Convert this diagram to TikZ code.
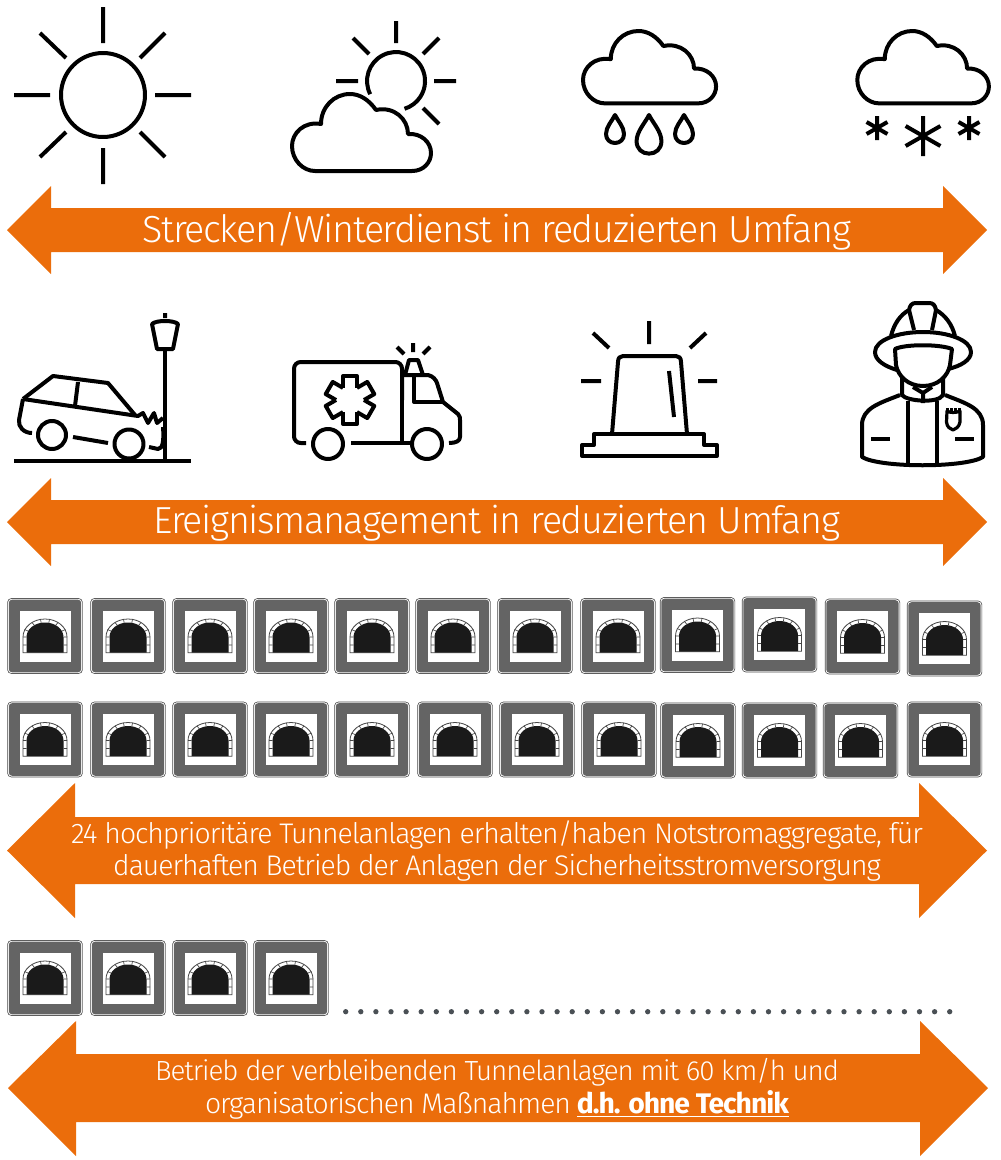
\documentclass[tikz,border=0pt]{standalone}
\usepackage{fontspec}
\setmainfont{Fira Sans Light}[BoldFont={Fira Sans Bold},LetterSpace=-3.6]
\definecolor{orangeA}{HTML}{EB6D0B}
\definecolor{signgrey}{HTML}{646464}
\definecolor{tunneldark}{HTML}{1A1A1A}
\definecolor{dotgrey}{HTML}{4A5055}
\tikzset{
 icon/.style={draw=black,line width=3pt,line cap=butt,line join=round,fill=none},
 iconfine/.style={icon,line width=2.4pt},
 bandarrow/.style={fill=orangeA,draw=none},
 bandtext/.style={text=white,align=center,inner sep=0pt,font=\fontsize{21.25}{24.6}\selectfont},
 headtext/.style={text=white,inner sep=0pt,font=\fontsize{28.25}{32}\selectfont},
 signdot/.style={circle,fill=dotgrey,draw=none,minimum size=4pt,inner sep=0pt},
 pics/tsign/.style={code={
  \fill[rounded corners=3pt,fill=signgrey!70!black] (-37.7,-37.8) rectangle (37.7,37.8);
  \fill[rounded corners=2.6pt,fill=white] (-37,-37.1) rectangle (37,37.1);
  \fill[rounded corners=2.4pt,fill=signgrey] (-36.2,-36.3) rectangle (36.2,36.3);
  \fill[white] (-25.5,-25.5) rectangle (25.5,25.5);
  \draw[fill=white,draw=signgrey!70!black,line width=0.6pt] (-22,16.7) -- (-22,1) arc[start angle=180,end angle=360,x radius=22,y radius=18] -- (22,16.7) -- cycle;
  \fill[tunneldark] (-18.5,16.7) -- (-18.5,1) arc[start angle=180,end angle=360,x radius=18.5,y radius=14.5] -- (18.5,16.7) -- cycle;
  \draw[signgrey!70!black,line width=0.5pt] (-22,1) -- (-18.5,1) (22,1) -- (18.5,1) (-22,9) -- (-18.5,9) (22,9) -- (18.5,9)
     (-20.5,-6.5) -- (-17,-5) (20.5,-6.5) -- (17,-5) (-13,-13.5) -- (-10.5,-10.5) (13,-13.5) -- (10.5,-10.5) (-4.5,-16.5) -- (-3.8,-13.2) (4.5,-16.5) -- (3.8,-13.2);
 }},
}
\newcommand{\cloudshape}{
 (315,171) -- (412,171) .. controls (424,171) and (431,162) .. (431,153)
 .. controls (431,142) and (421,133) .. (408,134)
 .. controls (408,119) and (394,106) .. (376,110)
 .. controls (369,100) and (360,94) .. (350,94)
 .. controls (334,94) and (321,107) .. (321,124)
 .. controls (304,121) and (292,133) .. (292,146)
 .. controls (292,160) and (303,171) .. (315,171) -- cycle}
\newcommand{\droppath}[3]{% tip x, tip y, scale
 \draw[icon,shift={(#1,#2)},x=#3*0.75pt,y=-#3*0.75pt] (0,0) .. controls (-3,6) and (-9,12) .. (-9,19) .. controls (-9,24.5) and (-5,28) .. (0,28) .. controls (5,28) and (9,24.5) .. (9,19) .. controls (9,12) and (3,6) .. (0,0) -- cycle;}
\begin{document}
\begin{tikzpicture}[x=0.75pt,y=-0.75pt]
\useasboundingbox (0,0) rectangle (1000,1160);
% sun
\node[circle,icon,minimum size=63pt,inner sep=0pt] (sunA) at (103,95) {};
\draw[icon] (103,7)--(103,43) (103,148)--(103,184) (14,95)--(50,95) (155,95)--(191,95)
 (40,33)--(66,58) (165,33)--(140,58) (66,132)--(40,157) (140,132)--(165,157);
% sun + cloud
\draw[icon] (370.2,94.2) arc[start angle=153,end angle=433,radius=29];
\draw[icon] (396,21)--(396,43) (336,81)--(358,81) (434,81)--(456,81)
 (353,38)--(369,54) (439,38)--(423,54) (423,108)--(439,124);
\draw[icon] \cloudshape;
% rain
\begin{scope}[shift={(583,31)},x=0.718pt,y=-0.705pt]
\draw[icon,shift={(-292,-94)}] \cloudshape;
\end{scope}
\droppath{615}{115}{1.0}
\droppath{649}{115}{1.38}
\droppath{684}{115}{1.0}
% snow
\begin{scope}[shift={(857.3,31)},x=0.71pt,y=-0.705pt]
\draw[icon,shift={(-292,-94)}] \cloudshape;
\end{scope}
\foreach \cx/\cy/\rr in {877/128/12,923/136/20,969/128/12}{
 \draw[icon] (\cx,\cy-\rr)--(\cx,\cy+\rr)
  (\cx-0.87*\rr,\cy-0.5*\rr)--(\cx+0.87*\rr,\cy+0.5*\rr)
  (\cx-0.87*\rr,\cy+0.5*\rr)--(\cx+0.87*\rr,\cy-0.5*\rr);
}
% arrows
\fill[bandarrow] (7,230)--(51,186)--(51,208)--(943,208)--(943,186)--(987,230)--(943,274)--(943,252)--(51,252)--(51,274)--cycle;
\node[headtext] (t1) at (497,231) {Strecken/Winterdienst in reduzierten Umfang};
\fill[bandarrow] (7,522)--(51,478)--(51,500)--(943,500)--(943,478)--(987,522)--(943,566)--(943,544)--(51,544)--(51,566)--cycle;
\node[headtext] (t2) at (497,523) {Ereignismanagement in reduzierten Umfang};
\fill[bandarrow] (7,850.5)--(75,783)--(75,817)--(919,817)--(919,783)--(987,850.5)--(919,918)--(919,884)--(75,884)--(75,918)--cycle;
\node[bandtext] (t3) at (497,851) {24 hochprioritäre Tunnelanlagen erhalten/haben Notstromaggregate, für\\dauerhaften Betrieb der Anlagen der Sicherheitsstromversorgung};
\fill[bandarrow] (8,1088)--(76,1021)--(76,1054)--(920,1054)--(920,1021)--(988,1088)--(920,1156)--(920,1122)--(76,1122)--(76,1156)--cycle;
\node[bandtext] (t4) at (497,1089) {\fontsize{20.75}{24.6}\selectfont Betrieb der verbleibenden Tunnelanlagen mit 60 km/h und\\organisatorischen Maßnahmen \textbf{\underline{d.h. ohne Technik}}};
% car
\draw[icon] (14,461)--(191,461);
\draw[icon] (165,349)--(165,461);
\draw[icon] (165,313)--(165,318) (152,324) .. controls (156,320) and (174,320) .. (178,324) -- (173,349) -- (157,349) -- cycle;
\draw[icon] (23,399)--(53,376)--(108,383)--(135,415);
\draw[icon] (23,399)--(138,416)--(143,413)--(148,423)--(154,413)--(157,423)--(163,418);
\draw[icon] (78,382)--(75,406);
\draw[icon] (23,399)--(19,420) .. controls (18,427) and (24,433) .. (32,433);
\draw[icon] (52,435) circle[radius=14];
\draw[icon] (129,444) circle[radius=14.5];
\draw[icon] (73,437)--(108,443);
\draw[icon] (149,447)--(158,449) .. controls (163,449) and (164,440) .. (163,427);
% ambulance
\draw[icon,rounded corners=5pt] (306,443)--(294,443)--(294,362)--(402,362)--(402,400);
\draw[icon] (402,390)--(402,443);
\draw[icon] (351,443)--(412,443);
\draw[icon] (328,444) circle[radius=15];
\draw[icon] (427,444) circle[radius=15];
\draw[icon] (402,375)--(428,375) .. controls (433,376) and (436,380) .. (437,383) -- (443,402) -- (458,414) .. controls (460,416) and (460,418) .. (460,420) -- (460,437) .. controls (460,441) and (456,443) .. (449,443);
\draw[icon] (414,375)--(414,402)--(443,402);
\draw[icon] (405,375)--(409,360)--(418,360)--(423,375);
\draw[icon] (413,343)--(413,352) (397,347)--(404,354) (430,347)--(423,354);
\foreach \a in {0,60,...,300}{
 \draw[icon,rotate around={\a:(350,400)}] (343,387.9)--(343,376)--(357,376)--(357,387.9);
}
% beacon
\draw[icon] (649,321)--(649,344) (593,333)--(609,348) (706,333)--(690,348) (581,381)--(601,381) (698,381)--(717,381) (669,371)--(674,417);
\draw[icon] (612,434)--(618,362) .. controls (618,358) and (620,356) .. (623,356) -- (676,356) .. controls (679,356) and (681,358) .. (681,362) -- (687,434);
\draw[icon] (594,434)--(704,434)--(704,445)--(717,445)--(717,456)--(582,456)--(582,445)--(594,445)--cycle;
% firefighter
\draw[icon] (897,370) .. controls (884,366) and (875,360) .. (875,352) .. controls (875,340) and (898,332) .. (923,332) .. controls (948,332) and (971,340) .. (971,352) .. controls (971,360) and (961,366) .. (948,369);
\draw[icon] (891,336) .. controls (894,324) and (900,315) .. (909,310) .. controls (910,305) and (912,303) .. (916,303) -- (929,303) .. controls (933,303) and (935,305) .. (936,310) .. controls (945,315) and (952,324) .. (955,336);
\draw[icon] (909,310)--(914,330) (936,310)--(932,330);
\draw[icon] (895,349) .. controls (905,344) and (940,344) .. (952,349) -- (950,365) .. controls (948,376) and (938,386) .. (923,386) .. controls (908,386) and (898,376) .. (896,365) -- cycle;
\draw[icon] (902,378)--(902,395) .. controls (906,401) and (938,404) .. (943,395) -- (943,378);
\draw[icon] (913,387)--(923,393)--(932,387) (923,392)--(923,403);
\draw[icon] (900,395) .. controls (880,403) and (862,408) .. (862,425) -- (862,457) .. controls (880,468) and (965,468) .. (983,457) -- (983,425) .. controls (983,408) and (965,403) .. (945,395);
\draw[icon] (908,401)--(908,465) (937,401)--(937,465);
\draw[icon] (871,439)--(890,439) (955,439)--(974,439);
\draw[iconfine] (947,411) .. controls (950,413) and (956,413) .. (960,411) -- (960,422) .. controls (959,427) and (956,429) .. (953,430) .. controls (950,429) and (947,427) .. (946.5,422) -- cycle;
\draw[iconfine,dash pattern=on 2.2pt off 0.8pt] (946,409.5)--(961,409.5);
% tunnel signs
\foreach \xx/\yy in {45/636,128/636,210/636,291/636,372/636,453/636,535/636,618/636,697.5/635,779.5/634.5,862.5/636.5,944.5/638.5}{
  \pic at (\xx,\yy) {tsign};
}
\foreach \xx/\yy in {45/739.5,128/739.5,210/739.5,291/739.5,372/739.5,455/739.5,537/739.5,619/739.5,698/740.5,779.5/740.5,860.5/740.5,944.5/739.5}{
  \pic at (\xx,\yy) {tsign};
}
\foreach \xx in {45,128,210,291}{
  \pic at (\xx,978) {tsign};
}
% dots
\foreach \k in {0,...,40}{
  \node[signdot] (d\k) at ({345.7+15.1*\k},1011.7) {};
}
\end{tikzpicture}
\end{document}
